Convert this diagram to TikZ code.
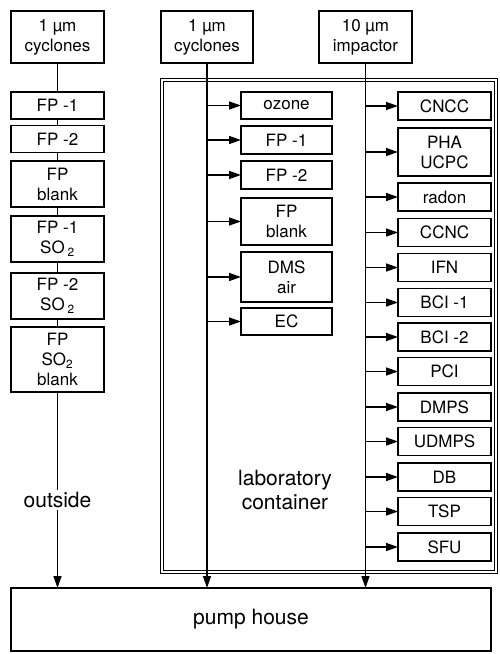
\documentclass[tikz,border=0pt]{standalone}
\usepackage{fontspec}
\setmainfont{TeX Gyre Heros}
\usetikzlibrary{arrows.meta,positioning}

\begin{document}
\begin{tikzpicture}[
  x=1pt, y=1pt,
  font=\fontsize{17}{20}\selectfont,
  >={Triangle[length=12pt,width=8pt]},
  unit/.style={draw, line width=1.7pt, fill=white, minimum width=93pt, minimum height=27pt, inner sep=1pt, outer sep=0pt, align=center},
  inlet/.style={unit, minimum height=52pt},
  bigtext/.style={font=\fontsize{21}{24}\selectfont, align=center},
  pipe/.style={line width=1.4pt},
  feed/.style={->, line width=1.4pt},
  container/.style={draw, line width=1.5pt, double, double distance=1.6pt, minimum width=334pt, minimum height=492pt, inner sep=0pt, outer sep=0pt}
]
\useasboundingbox (0,0) rectangle (499,-654);

% Laboratory container
\node[container] (lab) at (329,-326) {};
\node[bigtext] (labtext) at (285,-490) {laboratory\\container};

% Inlets
\node[inlet] (cycL) at (57.5,-37) {1 µm\\cyclones};
\node[inlet, minimum width=92pt] (cycM) at (207,-37) {1 µm\\cyclones};
\node[inlet] (imp) at (365.5,-37) {10 µm\\impactor};

% Outside samplers
\node[unit] (oFPa) at (57.5,-105.5) {FP -1};
\node[unit] (oFPb) at (57.5,-139) {FP -2};
\node[unit, minimum height=46pt] (oBlank) at (57.5,-184) {FP\\blank};
\node[unit, minimum height=46pt] (oSOa) at (57.5,-239) {FP -1\\SO\,\textsubscript{2}};
\node[unit, minimum height=46pt] (oSOb) at (57.5,-296) {FP -2\\SO\,\textsubscript{2}};
\node[unit, minimum height=65pt] (oSOblank) at (57.5,-359.5) {FP\\SO\textsubscript{2}\\blank};
\node[bigtext, fill=white, inner sep=2pt] (outside) at (57.5,-500) {outside};

% Fine fraction samplers
\node[unit, minimum width=91pt] (ozone) at (286.5,-105.5) {ozone};
\node[unit, minimum width=91pt, minimum height=28pt] (mFPa) at (286.5,-140) {FP -1};
\node[unit, minimum width=91pt, minimum height=28pt] (mFPb) at (286.5,-175) {FP -2};
\node[unit, minimum width=91pt, minimum height=47pt] (mBlank) at (286.5,-221.5) {FP\\blank};
\node[unit, minimum width=91pt, minimum height=50pt] (dms) at (286.5,-277) {DMS\\air};
\node[unit, minimum width=91pt] (ec) at (286.5,-321.5) {EC};

% Coarse fraction instruments
\node[unit, minimum height=28pt] (cncc) at (444.5,-106) {CNCC};
\node[unit, minimum height=48pt] (pha) at (444.5,-152) {PHA\\UCPC};
\node[unit, minimum height=28pt] (radon) at (444.5,-197) {radon};
\node[unit, minimum height=28pt] (ccnc) at (444.5,-232.5) {CCNC};
\node[unit, minimum height=28pt] (ifn) at (444.5,-267.5) {IFN};
\node[unit, minimum height=28pt] (bcia) at (444.5,-302.5) {BCI -1};
\node[unit, minimum height=28pt] (bcib) at (444.5,-337) {BCI -2};
\node[unit, minimum height=28pt] (pci) at (444.5,-371.5) {PCI};
\node[unit, minimum height=28pt] (dmps) at (444.5,-407) {DMPS};
\node[unit, minimum height=28pt] (udmps) at (444.5,-441.5) {UDMPS};
\node[unit, minimum height=28pt] (db) at (444.5,-477) {DB};
\node[unit, minimum height=28pt] (tsp) at (444.5,-511.5) {TSP};
\node[unit, minimum height=28pt] (sfu) at (444.5,-547) {SFU};

% Pump house
\node[unit, minimum width=480pt, minimum height=63pt, font=\fontsize{21}{24}\selectfont] (pump) at (251,-619.5) {pump house};

% Outside line
\draw[pipe] (cycL) -- (oFPa);
\draw[pipe] (oFPa) -- (oFPb);
\draw[pipe] (oFPb) -- (oBlank);
\draw[pipe] (oBlank) -- (oSOa);
\draw[pipe] (oSOa) -- (oSOb);
\draw[pipe] (oSOb) -- (oSOblank);
\draw[pipe] (oSOblank) -- (outside);
\draw[feed] (outside) -- (oSOblank.south |- pump.north);

% Fine fraction line
\draw[feed] (cycM) -- (cycM.south |- pump.north);
\draw[feed] (cycM.south |- ozone.west) -- (ozone.west);
\draw[feed] (cycM.south |- mFPa.west) -- (mFPa.west);
\draw[feed] (cycM.south |- mFPb.west) -- (mFPb.west);
\draw[feed] (cycM.south |- mBlank.west) -- (mBlank.west);
\draw[feed] (cycM.south |- dms.west) -- (dms.west);
\draw[feed] (cycM.south |- ec.west) -- (ec.west);

% Coarse fraction line
\draw[feed] (imp) -- (imp.south |- pump.north);
\draw[feed] (imp.south |- cncc.west) -- (cncc.west);
\draw[feed] (imp.south |- pha.west) -- (pha.west);
\draw[feed] (imp.south |- radon.west) -- (radon.west);
\draw[feed] (imp.south |- ccnc.west) -- (ccnc.west);
\draw[feed] (imp.south |- ifn.west) -- (ifn.west);
\draw[feed] (imp.south |- bcia.west) -- (bcia.west);
\draw[feed] (imp.south |- bcib.west) -- (bcib.west);
\draw[feed] (imp.south |- pci.west) -- (pci.west);
\draw[feed] (imp.south |- dmps.west) -- (dmps.west);
\draw[feed] (imp.south |- udmps.west) -- (udmps.west);
\draw[feed] (imp.south |- db.west) -- (db.west);
\draw[feed] (imp.south |- tsp.west) -- (tsp.west);
\draw[feed] (imp.south |- sfu.west) -- (sfu.west);

\end{tikzpicture}
\end{document}
